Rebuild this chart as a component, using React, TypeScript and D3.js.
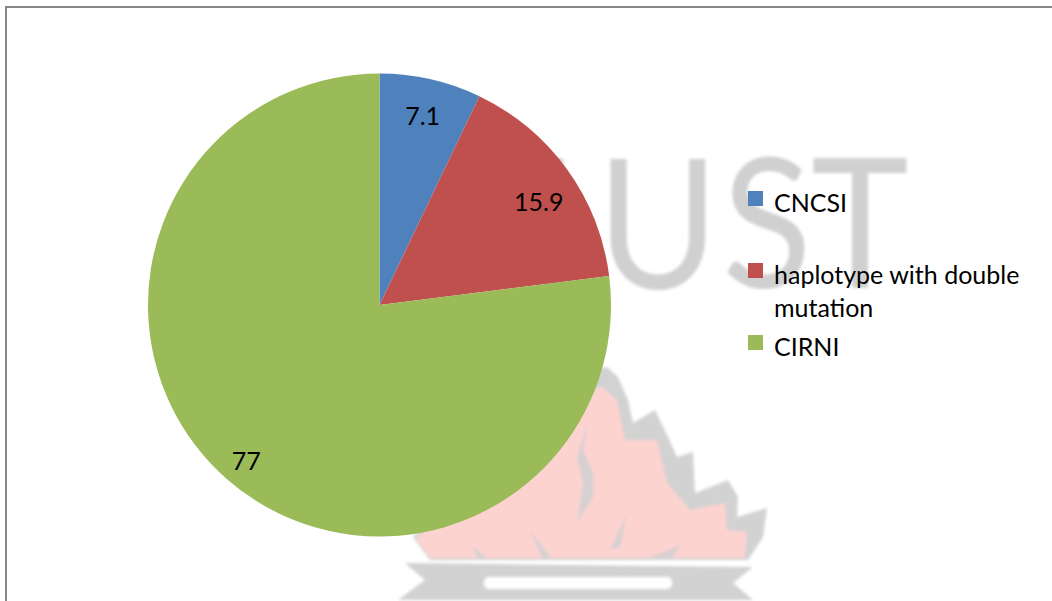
import React from 'react';
import * as d3 from 'd3';

const categories = ['CNCSI', 'haplotype with double mutation', 'CIRNI'];
const values = [7.1, 15.9, 77];
const sliceColors = ['#4f81bd', '#c0504d', '#9bbb59'];
const legendLines = [['CNCSI'], ['haplotype with double', 'mutation'], ['CIRNI']];

const width = 1052;
const height = 601;
const cx = 379.5;
const cy = 305;
const radius = 231.5;
const labelRadius = [195, 189, 206];
const labelNudge = [[0, 0], [6, 7], [3, 0]];
const labelFont = 'Lato, "Open Sans", sans-serif';

// faded logo behind the chart
const flameEdge = 'M607 367L618 377L628 400L633 423L655 410L668 437L677 457L693 452L695 493L728 480L738 497L737 517L767 508L763 537L748 560L430 560L413 537L500 450L590 370Z';
const flameFill = 'M602 387L617 400L625 440L657 440L667 483L690 510L725 503L727 530L747 532L745 558L430 558L416 538L500 470L590 390Z';
const flameStreaks = [
  'M588 423L577 457L583 483L577 523L593 497L593 473L583 450Z',
  'M627 513L610 550L620 547Z',
  'M530 530L543 560L553 560Z',
  'M472 545L478 560L488 560Z',
  'M680 545L650 558L672 558Z',
];
const ribbon = 'M405 563L753 567L733 583L753 600L398 600L425 580Z';
const watermark = [
  { text: 'N', x: 452 },
  { text: 'U', x: 597 },
  { text: 'S', x: 722 },
  { text: 'T', x: 811 },
];

const App = () => {
  const color = d3.scaleOrdinal<string, string>().domain(categories).range(sliceColors);
  const slices = d3.pie<number>().sort(null)(values);
  const arc = d3.arc<d3.PieArcDatum<number>>().innerRadius(0).outerRadius(radius);

  return (
    <svg
      width={width}
      height={height}
      style={{ position: 'absolute', left: 0, top: 0, background: '#fff' }}
    >
      <defs>
        <filter id="soft" x="-5%" y="-5%" width="110%" height="110%">
          <feGaussianBlur stdDeviation="1.4" />
        </filter>
      </defs>

      <g filter="url(#soft)">
        <path d={flameEdge} fill="#d2d2d2" />
        <path d={flameFill} fill="#fdd3d0" />
        {flameStreaks.map((d, i) => <path key={i} d={d} fill="#d6d0d2" />)}
        <path d={ribbon} fill="#d2d2d2" />
        <rect x={484} y={577} width={188} height={12} rx={5} fill="#fff" />
      </g>

      <g fill="#d0d0d0" fontFamily={labelFont} fontSize={180} filter="url(#soft)">
        {watermark.map(d => (
          <text key={d.text} transform={`translate(${d.x},288) scale(0.92,1)`}>{d.text}</text>
        ))}
      </g>

      <path
        d={`M6 ${height}V7H${width}`}
        fill="none"
        stroke="#868686"
        strokeWidth={2}
      />

      <g transform={`translate(${cx},${cy})`}>
        {slices.map((s, i) => (
          <path key={categories[i]} d={arc(s) ?? ''} fill={color(categories[i])} />
        ))}
        {slices.map((s, i) => {
          const [x, y] = d3.arc<d3.PieArcDatum<number>>()
            .innerRadius(labelRadius[i])
            .outerRadius(labelRadius[i])
            .centroid(s);
          return (
            <text
              key={categories[i]}
              x={x + labelNudge[i][0]}
              y={y + labelNudge[i][1]}
              textAnchor="middle"
              dominantBaseline="central"
              fontFamily={labelFont}
              fontSize={25}
              fill="#000"
            >
              {values[i]}
            </text>
          );
        })}
      </g>

      {categories.map((c, i) => {
        const top = 191 + i * 72;
        return (
          <g key={c}>
            <rect x={748} y={top} width={15} height={15} fill={color(c)} />
            <text fontFamily={labelFont} fontSize={25} fill="#000">
              {legendLines[i].map((line, j) => (
                <tspan key={line} x={774} y={top + 21 + j * 33}>{line}</tspan>
              ))}
            </text>
          </g>
        );
      })}
    </svg>
  );
};

export default App;
